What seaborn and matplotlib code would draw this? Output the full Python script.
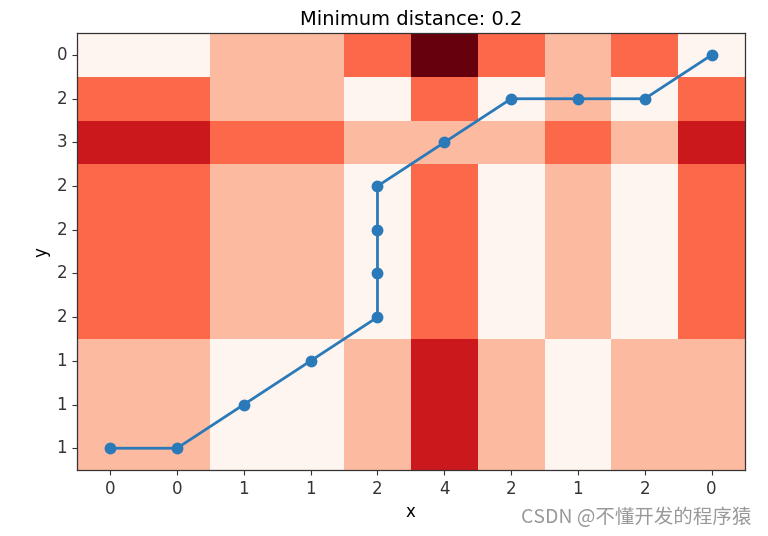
import numpy as np
import pandas as pd
import matplotlib
matplotlib.use("Agg")
import matplotlib.pyplot as plt
import seaborn as sns

x = [0, 0, 1, 1, 2, 4, 2, 1, 2, 0]
y = [0, 2, 3, 2, 2, 2, 2, 1, 1, 1]
path_col = [0, 1, 2, 3, 4, 4, 4, 4, 5, 6, 7, 8, 9]
path_row = [9, 9, 8, 7, 6, 5, 4, 3, 2, 1, 1, 1, 0]
title = "Minimum distance: 0.2"

dist = np.abs(np.array(y)[:, None] - np.array(x)[None, :])

plt.rcParams['font.family'] = ['DejaVu Sans']
fig = plt.figure(figsize=(7.68, 5.36), dpi=100)
ax = fig.add_axes([0.1, 0.123, 0.87, 0.815])
sns.heatmap(dist, cmap="Reds", vmin=0, vmax=4, cbar=False, ax=ax,
            xticklabels=x, yticklabels=y)
for s in ax.spines.values():
    s.set_visible(True)
    s.set_color("#333333")
    s.set_linewidth(0.9)
ax.tick_params(axis='both', which='both', length=3.5, width=0.8, labelsize=12,
               colors='#333333')
plt.setp(ax.get_yticklabels(), rotation=0)
plt.setp(ax.get_xticklabels(), rotation=0)
ax.plot(np.array(path_col) + 0.5, np.array(path_row) + 0.5, marker='o',
        color='#2a7ab9', linewidth=2, markersize=7.5)
ax.set_title(title, fontsize=14)
ax.set_xlabel("x", fontsize=12)
ax.set_ylabel("y", fontsize=12)
fig.text(0.978, 0.034, "CSDN @不懂开发的程序猿", ha='right', va='center',
         fontsize=14, color='#999999',
         family=['Noto Sans CJK SC', 'DejaVu Sans'])
fig.savefig("out.png", dpi=100)
